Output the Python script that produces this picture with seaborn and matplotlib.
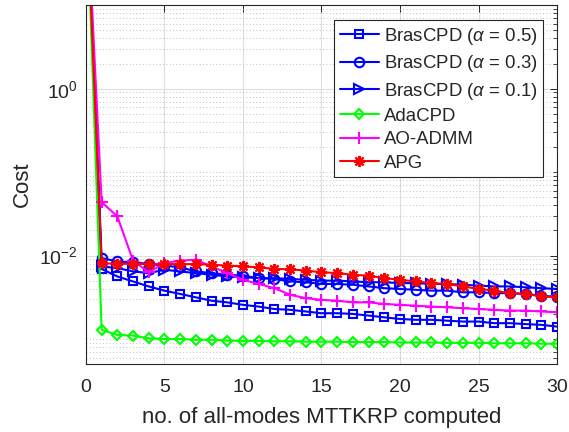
import numpy as np
import matplotlib
matplotlib.use("Agg")
import matplotlib.pyplot as plt
import matplotlib.ticker as mticker
import seaborn as sns

sns.set_style("white")
plt.rcParams["font.family"] = ["Liberation Sans", "DejaVu Sans"]
plt.rcParams["mathtext.fontset"] = "custom"
plt.rcParams["mathtext.rm"] = "Liberation Sans"
plt.rcParams["mathtext.it"] = "Liberation Sans:italic"

# データ (読み取り値)
iters = list(range(31))

bras_05 = [300, 6.92e-3, 5.62e-3, 4.90e-3, 4.27e-3, 3.80e-3, 3.47e-3, 3.16e-3, 2.88e-3, 2.75e-3, 2.57e-3,
           2.45e-3, 2.29e-3, 2.24e-3, 2.14e-3, 2.04e-3, 2.04e-3, 2.00e-3, 1.91e-3, 1.82e-3, 1.74e-3,
           1.70e-3, 1.70e-3, 1.66e-3, 1.62e-3, 1.62e-3, 1.55e-3, 1.55e-3, 1.51e-3, 1.48e-3, 1.41e-3]
bras_03 = [300, 9.33e-3, 8.51e-3, 8.32e-3, 7.94e-3, 7.59e-3, 7.24e-3, 6.46e-3, 6.17e-3, 5.89e-3, 5.75e-3,
           5.37e-3, 5.25e-3, 4.90e-3, 4.79e-3, 4.57e-3, 4.57e-3, 4.47e-3, 4.27e-3, 4.07e-3, 3.98e-3,
           3.89e-3, 3.80e-3, 3.80e-3, 3.63e-3, 3.63e-3, 3.55e-3, 3.55e-3, 3.47e-3, 3.31e-3, 3.20e-3]
bras_01 = [300, 7.41e-3, 7.08e-3, 6.46e-3, 6.17e-3, 6.76e-3, 6.46e-3, 6.17e-3, 5.89e-3, 5.62e-3, 5.50e-3,
           5.37e-3, 5.37e-3, 5.25e-3, 5.13e-3, 5.01e-3, 5.01e-3, 4.90e-3, 4.79e-3, 4.79e-3, 4.68e-3,
           4.68e-3, 4.57e-3, 4.57e-3, 4.47e-3, 4.37e-3, 4.27e-3, 4.27e-3, 4.17e-3, 4.07e-3, 3.98e-3]
adacpd = [300, 1.29e-3, 1.12e-3, 1.10e-3, 1.02e-3, 1.00e-3, 1.00e-3, 0.98e-3, 0.98e-3, 0.96e-3, 0.95e-3,
          0.95e-3, 0.94e-3, 0.94e-3, 0.93e-3, 0.93e-3, 0.93e-3, 0.92e-3, 0.92e-3, 0.92e-3, 0.91e-3,
          0.91e-3, 0.91e-3, 0.90e-3, 0.90e-3, 0.90e-3, 0.89e-3, 0.89e-3, 0.89e-3, 0.88e-3, 0.88e-3]
ao_admm = [300, 4.37e-2, 2.95e-2, 8.71e-3, 6.31e-3, 8.13e-3, 8.71e-3, 8.91e-3, 7.41e-3, 6.17e-3, 5.13e-3,
           4.57e-3, 4.07e-3, 3.39e-3, 3.09e-3, 2.95e-3, 2.88e-3, 2.75e-3, 2.75e-3, 2.63e-3, 2.57e-3,
           2.51e-3, 2.45e-3, 2.40e-3, 2.34e-3, 2.29e-3, 2.24e-3, 2.19e-3, 2.19e-3, 2.14e-3, 2.09e-3]
apg = [300, 8.13e-3, 7.94e-3, 8.00e-3, 7.90e-3, 7.90e-3, 7.90e-3, 7.90e-3, 7.76e-3, 7.59e-3, 7.41e-3,
       7.24e-3, 6.92e-3, 6.85e-3, 6.61e-3, 6.31e-3, 6.17e-3, 5.89e-3, 5.75e-3, 5.37e-3, 5.13e-3,
       4.90e-3, 4.68e-3, 4.57e-3, 4.27e-3, 3.98e-3, 3.80e-3, 3.55e-3, 3.47e-3, 3.24e-3, 3.16e-3]

labels = [r"BrasCPD ($\alpha$ = 0.5)", r"BrasCPD ($\alpha$ = 0.3)", r"BrasCPD ($\alpha$ = 0.1)",
          "AdaCPD", "AO-ADMM", "APG"]
series = [bras_05, bras_03, bras_01, adacpd, ao_admm, apg]

# 見た目
colors = ["#0000ff", "#0000ff", "#0000ff", "#00ff00", "#ff00ff", "#ff0000"]
markers = ["s", "o", ">", "D", "+", (8, 2, 0)]
msizes = [5.6, 6.8, 6.8, 5.2, 8.5, 8.0]

fig = plt.figure(figsize=(5.69, 4.32), dpi=100)
ax = fig.add_axes([0.151, 0.157, 0.828, 0.831])
ax.set_yscale("log")

for vals, lab, c, m, ms in zip(series, labels, colors, markers, msizes):
    sns.lineplot(x=iters, y=vals, ax=ax, color=c, marker=m, markersize=ms,
                 markerfacecolor="none", markeredgecolor=c, markeredgewidth=1.5,
                 linewidth=1.5, label=lab)

ax.set_xlim(0, 30)
ax.set_ylim(5e-4, 10)
ax.set_xticks(range(0, 31, 5))
ax.yaxis.set_major_locator(mticker.FixedLocator([1e-2, 1e0]))
minor = [s * 10.0 ** k for k in range(-4, 1) for s in range(1, 10)]
minor = [v for v in minor if v not in (1e-2, 1e0)] + [10.0]
ax.yaxis.set_minor_locator(mticker.FixedLocator(minor))
ax.yaxis.set_minor_formatter(mticker.NullFormatter())

ax.grid(True, which="major", color="#dedede", linewidth=0.8, linestyle="-")
ax.grid(True, which="minor", axis="y", color="#b0b0b0", linewidth=0.6, linestyle=(0, (1, 3)))
ax.set_axisbelow(True)

ax.tick_params(which="both", direction="in", top=True, right=True, colors="#262626",
               labelcolor="#262626", labelsize=14)
ax.tick_params(which="major", length=5, width=0.7)
ax.tick_params(which="minor", length=3, width=0.6)
ax.tick_params(axis="x", which="major", pad=10.5)
ax.tick_params(axis="y", which="major", pad=6)
for sp in ax.spines.values():
    sp.set_color("#262626")
    sp.set_linewidth(0.8)

ax.set_xlabel("no. of all-modes MTTKRP computed", fontsize=16, color="#262626", labelpad=8)
ax.set_ylabel("Cost", fontsize=16, color="#262626", labelpad=4)

leg = ax.legend(loc="upper right", bbox_to_anchor=(0.970, 0.958), borderaxespad=0,
                fontsize=13.4, frameon=True, fancybox=False, edgecolor="#262626",
                framealpha=1, handlelength=2.1, handletextpad=0.25, labelspacing=0.34,
                borderpad=0.3)
leg.get_frame().set_linewidth(0.8)

fig.savefig("out.png", dpi=100)
